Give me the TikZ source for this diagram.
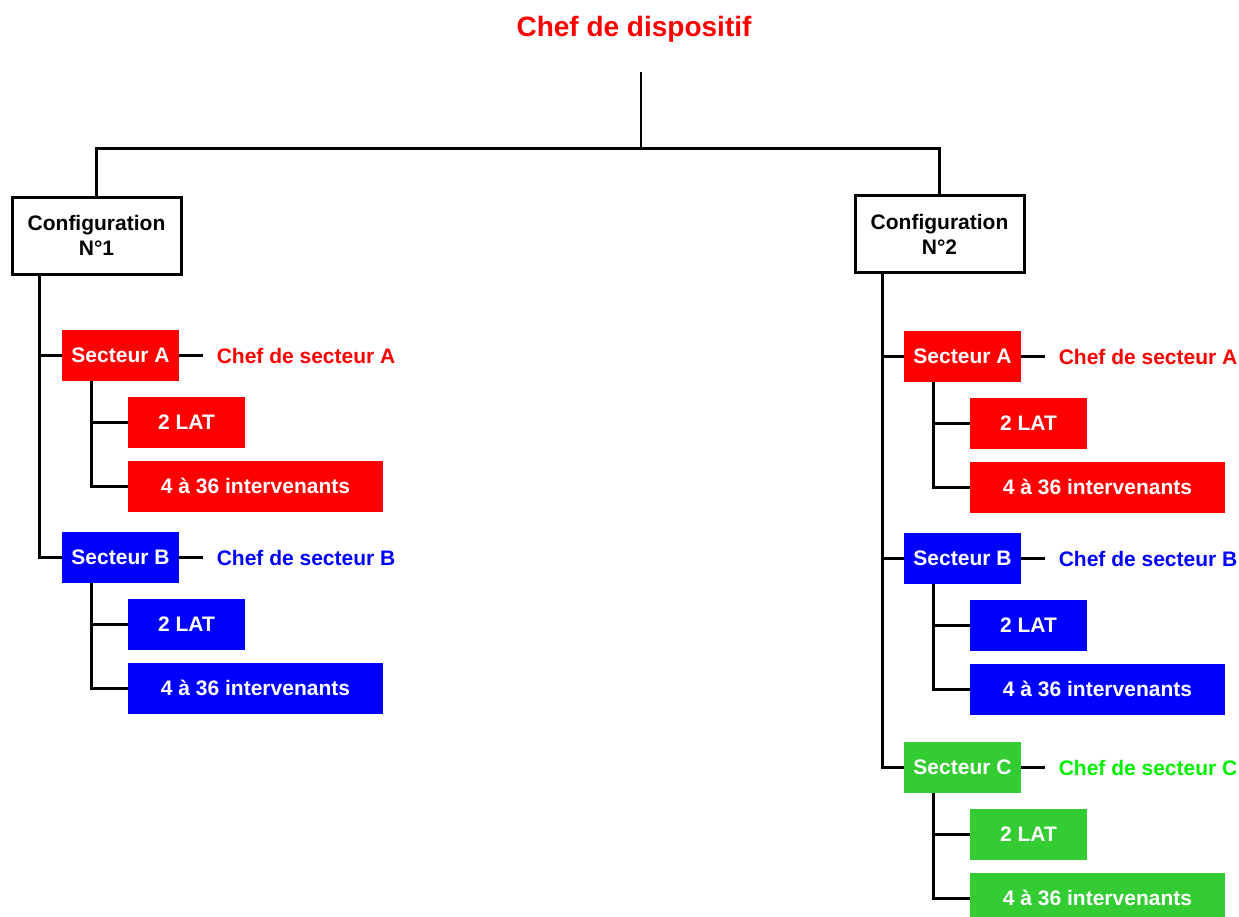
\documentclass[tikz,border=0pt]{standalone}
\usepackage{fontspec}
\setmainfont{Liberation Sans}
\usepackage{tikz}
\usetikzlibrary{positioning}
\definecolor{sectred}{RGB}{255,0,0}
\definecolor{sectblue}{RGB}{0,0,255}
\definecolor{sectgreen}{RGB}{51,204,51}
\definecolor{chefgreen}{RGB}{0,240,0}
\tikzset{boxfont/.style={font=\fontsize{10.5}{12.5}\selectfont\bfseries}}
\tikzset{config/.style={draw, line width=1.5pt, minimum width=84.5pt, minimum height=38.5pt, align=center, boxfont}}
\tikzset{secteur/.style={fill=#1, text=white, minimum width=58.5pt, minimum height=25.5pt, inner sep=0pt, boxfont}}
\tikzset{effectif/.style={secteur=#1, minimum width=127.5pt}}
\tikzset{chef/.style={text=#1, inner xsep=6.5pt, inner ysep=0pt, boxfont}}
\tikzset{link/.style={line width=1.5pt}}

\begin{document}
\begin{tikzpicture}[x=0.5pt, y=-0.5pt]
      \useasboundingbox (0,0) rectangle (1239,917);

      \node[text=sectred, font=\fontsize{14}{16}\selectfont\bfseries, anchor=base] (dispositif) at (634,36) {Chef de dispositif};
      \coordinate (stem) at (641,72);
      \coordinate (hub) at (641,148);

      \node[config] (conf1) at (96.5,235.5) {Configuration\\N°1};
      \node[config] (conf2) at (939.5,234) {Configuration\\N°2};

      % configuration 1
      \node[secteur=sectred] (secA1) at (120.5,355.5) {Secteur A};
      \node[chef=sectred, right=12pt of secA1] (chefA1) {Chef de secteur A};
      \node[secteur=sectred, below right=7.5pt and 33pt of secA1.south west] (latA1) {2 LAT};
      \node[effectif=sectred, below right=6pt and 0pt of latA1.south west] (nbA1) {4 à 36 intervenants};

      \node[secteur=sectblue] (secB1) at (120.5,557.5) {Secteur B};
      \node[chef=sectblue, right=12pt of secB1] (chefB1) {Chef de secteur B};
      \node[secteur=sectblue, below right=7.5pt and 33pt of secB1.south west] (latB1) {2 LAT};
      \node[effectif=sectblue, below right=6pt and 0pt of latB1.south west] (nbB1) {4 à 36 intervenants};

      % configuration 2
      \node[secteur=sectred] (secA2) at (962.5,356.5) {Secteur A};
      \node[chef=sectred, right=12pt of secA2] (chefA2) {Chef de secteur A};
      \node[secteur=sectred, below right=7.5pt and 33pt of secA2.south west] (latA2) {2 LAT};
      \node[effectif=sectred, below right=6pt and 0pt of latA2.south west] (nbA2) {4 à 36 intervenants};

      \node[secteur=sectblue] (secB2) at (962.5,558.5) {Secteur B};
      \node[chef=sectblue, right=12pt of secB2] (chefB2) {Chef de secteur B};
      \node[secteur=sectblue, below right=7.5pt and 33pt of secB2.south west] (latB2) {2 LAT};
      \node[effectif=sectblue, below right=6pt and 0pt of latB2.south west] (nbB2) {4 à 36 intervenants};

      \node[secteur=sectgreen] (secC2) at (962.5,767.5) {Secteur C};
      \node[chef=chefgreen, right=12pt of secC2] (chefC2) {Chef de secteur C};
      \node[secteur=sectgreen, below right=7.5pt and 33pt of secC2.south west] (latC2) {2 LAT};
      \node[effectif=sectgreen, below right=6pt and 0pt of latC2.south west] (nbC2) {4 à 36 intervenants};

      % liaisons
      \draw[line width=1pt] (stem) -- (hub);
      \draw[link] (conf1.north) |- (hub) -| (conf2.north);

      \draw[link] ([xshift=14.5pt]conf1.south west) |- (secA1.west);
      \draw[link] ([xshift=14.5pt]conf1.south west) |- (secB1.west);
      \draw[link] ([xshift=14.5pt]conf2.south west) |- (secA2.west);
      \draw[link] ([xshift=14.5pt]conf2.south west) |- (secB2.west);
      \draw[link] ([xshift=14.5pt]conf2.south west) |- (secC2.west);

      \foreach \s in {A1,B1,A2,B2,C2} {
        \draw[link] (sec\s) -- (chef\s);
        \draw[link] ([xshift=15pt]sec\s.south west) |- (lat\s.west);
        \draw[link] ([xshift=15pt]sec\s.south west) |- (nb\s.west);
      }

    \end{tikzpicture}
\end{document}
